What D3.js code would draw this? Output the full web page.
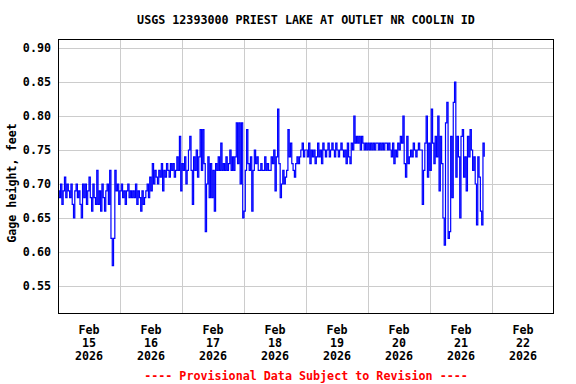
<!DOCTYPE html>
<html><head><meta charset="utf-8">
<script src="https://cdn.jsdelivr.net/npm/d3@7"></script>
<style>body{margin:0;background:#fff}svg{display:block}text{font-family:"DejaVu Sans Mono",monospace;font-weight:bold}</style>
</head><body><svg id="c" width="576" height="384"></svg>
<script>
const title = "USGS 12393000 PRIEST LAKE AT OUTLET NR COOLIN ID";
const yLabel = "Gage height, feet";
const footer = "---- Provisional Data Subject to Revision ----";
const yTicks = [0.55, 0.60, 0.65, 0.70, 0.75, 0.80, 0.85, 0.90];
const dayLabels = ["15","16","17","18","19","20","21","22"];
const startTime = new Date(2026, 1, 15, 0, 0);
const stepMinutes = 30;
// gage height, feet, every 30 minutes from Feb 15 00:00
const feb15 = [0.69,0.68,0.70,0.67,0.69,0.71,0.68,0.70,0.69,0.68,
  0.70,0.67,0.65,0.69,0.70,0.68,0.69,0.67,0.65,0.70,
  0.68,0.70,0.67,0.69,0.71,0.68,0.66,0.70,0.68,0.67,
  0.72,0.67,0.69,0.66,0.70,0.68,0.66,0.69,0.70,0.67,
  0.72,0.62,0.58,0.62,0.72,0.69,0.70,0.67];
const feb16 = [0.69,0.70,0.68,0.69,0.67,0.69,0.70,0.68,0.69,0.68,
  0.69,0.68,0.70,0.67,0.69,0.68,0.66,0.69,0.67,0.68,
  0.69,0.70,0.68,0.71,0.69,0.73,0.70,0.72,0.71,0.70,
  0.72,0.71,0.73,0.69,0.72,0.71,0.73,0.72,0.71,0.73,
  0.72,0.73,0.71,0.72,0.74,0.72,0.77,0.69];
const feb17 = [0.73,0.72,0.74,0.70,0.72,0.75,0.77,0.72,0.67,0.74,
  0.72,0.75,0.71,0.74,0.78,0.72,0.78,0.73,0.63,0.70,
  0.74,0.68,0.73,0.68,0.72,0.66,0.73,0.72,0.74,0.72,
  0.76,0.72,0.73,0.72,0.74,0.72,0.73,0.75,0.72,0.74,
  0.72,0.74,0.79,0.73,0.79,0.70,0.79,0.65];
const feb18 = [0.66,0.72,0.78,0.73,0.72,0.74,0.66,0.72,0.75,0.73,
  0.74,0.72,0.72,0.73,0.72,0.72,0.74,0.72,0.73,0.72,
  0.72,0.74,0.73,0.75,0.69,0.74,0.81,0.73,0.68,0.70,
  0.72,0.70,0.71,0.72,0.78,0.74,0.76,0.73,0.72,0.71,
  0.73,0.74,0.73,0.74,0.75,0.76,0.74,0.75];
const feb19 = [0.75,0.74,0.76,0.73,0.75,0.74,0.75,0.73,0.74,0.76,
  0.74,0.75,0.73,0.76,0.75,0.74,0.75,0.76,0.74,0.75,
  0.76,0.75,0.74,0.76,0.75,0.74,0.75,0.76,0.75,0.74,
  0.75,0.73,0.76,0.74,0.73,0.76,0.75,0.80,0.76,0.77,
  0.76,0.77,0.75,0.77,0.76,0.75,0.76,0.75];
const feb20 = [0.76,0.75,0.76,0.75,0.76,0.75,0.76,0.76,0.75,0.76,
  0.75,0.76,0.75,0.76,0.76,0.75,0.76,0.75,0.74,0.76,
  0.73,0.75,0.74,0.76,0.75,0.77,0.76,0.80,0.73,0.71,
  0.77,0.73,0.74,0.75,0.74,0.76,0.75,0.74,0.75,0.76,
  0.75,0.75,0.67,0.72,0.76,0.80,0.71,0.76];
const feb21 = [0.72,0.81,0.76,0.73,0.77,0.74,0.80,0.69,0.77,0.73,
  0.65,0.61,0.79,0.82,0.62,0.63,0.77,0.68,0.82,0.85,
  0.71,0.77,0.74,0.65,0.77,0.78,0.71,0.74,0.69,0.77,
  0.74,0.78,0.75,0.72,0.74,0.70,0.64,0.74,0.71,0.66,
  0.64,0.76,0.74];

const values = [].concat(feb15, feb16, feb17, feb18, feb19, feb20, feb21);
const data = values.map((v, i) => ({t: new Date(startTime.getTime() + i * stepMinutes * 60000), v}));

const svg = d3.select("#c");
const m = {l: 58, r: 554, t: 39, b: 314};
const x = d3.scaleTime().domain([new Date(2026,1,15), new Date(2026,1,23)]).range([m.l, m.r]);
const y = d3.scaleLinear().domain([0.5088, 0.9132]).range([m.b, m.t]);

const days = d3.timeDay.range(new Date(2026,1,15), new Date(2026,1,24));
// grid
svg.append("g").selectAll("line.v").data(days.slice(1, -1)).join("line")
  .attr("x1", d => Math.round(x(d)) + 0.5).attr("x2", d => Math.round(x(d)) + 0.5)
  .attr("y1", m.t).attr("y2", m.b).attr("stroke", "#cccccc");
svg.append("g").selectAll("line.h").data(yTicks).join("line")
  .attr("x1", m.l).attr("x2", m.r)
  .attr("y1", d => Math.round(y(d)) + 0.5).attr("y2", d => Math.round(y(d)) + 0.5)
  .attr("stroke", "#cccccc");

// data line
svg.append("path").datum(data)
  .attr("fill", "none").attr("stroke", "#0000ff").attr("stroke-width", 1.2)
  .attr("d", d3.line().curve(d3.curveStepAfter).x(d => x(d.t)).y(d => y(d.v)));

// frame
svg.append("rect").attr("x", m.l + 0.5).attr("y", m.t + 0.5)
  .attr("width", m.r - m.l - 1).attr("height", m.b - m.t - 1)
  .attr("fill", "none").attr("stroke", "#000");

// y tick labels
svg.append("g").selectAll("text").data(yTicks).join("text")
  .attr("x", 51).attr("y", d => y(d) + 4).attr("text-anchor", "end")
  .attr("font-size", "11.7px").text(d => d.toFixed(2));

// x tick labels
const noons = days.slice(0, 8).map(d => d3.timeHour.offset(d, 12));
const xl = svg.append("g").selectAll("text").data(noons).join("text")
  .attr("text-anchor", "middle").attr("font-size", "11.7px");
xl.each(function(d, i) {
  const t = d3.select(this);
  const cx = x(d);
  t.append("tspan").attr("x", cx).attr("y", 334).text("Feb");
  t.append("tspan").attr("x", cx).attr("y", 347).text(dayLabels[i]);
  t.append("tspan").attr("x", cx).attr("y", 360).text("2026");
});

svg.append("text").attr("x", 306).attr("y", 24).attr("text-anchor", "middle")
  .attr("font-size", "11.7px").text(title);
svg.append("text").attr("transform", "translate(16,183) rotate(-90)")
  .attr("text-anchor", "middle").attr("font-size", "11.7px").text(yLabel);
svg.append("text").attr("x", 306).attr("y", 380).attr("text-anchor", "middle")
  .attr("font-size", "11.7px").attr("fill", "#ff0000").text(footer);
</script></body></html>
